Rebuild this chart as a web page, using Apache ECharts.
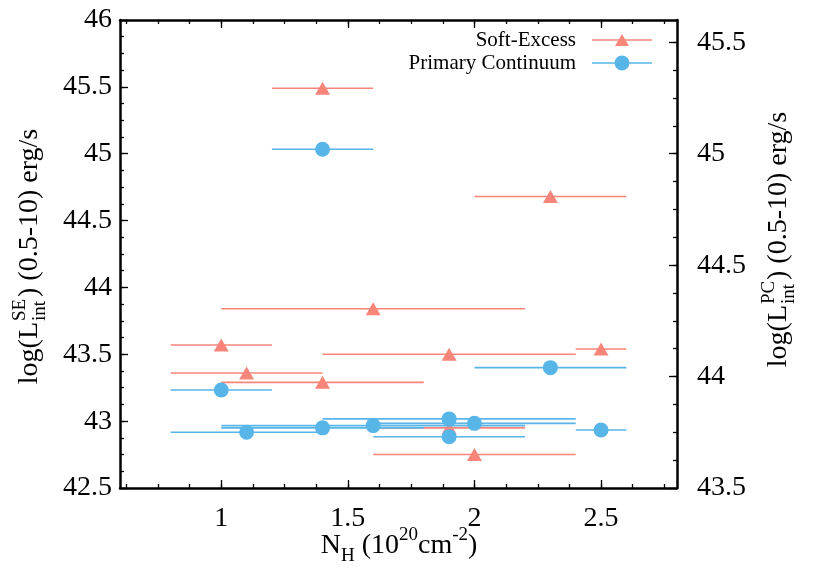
<!DOCTYPE html>
<html>
<head>
<meta charset="utf-8">
<style>
  html, body { margin: 0; padding: 0; background: #fff; }
  #chart { width: 830px; height: 580px; }
</style>
</head>
<body>
<div id="chart"></div>
<script src="https://cdn.jsdelivr.net/npm/echarts@6/dist/echarts.min.js"></script>
<script>
// N_H (10^20 cm^-2) with its x error range, shared by both components
var nH     = [1.4, 2.3, 1.6, 1.0, 2.5, 1.9, 1.1, 1.4, 1.9, 2.0];
var nHLo   = [1.2, 2.0, 1.0, 0.8, 2.4, 1.4, 0.8, 1.0, 1.6, 1.6];
var nHHi   = [1.6, 2.6, 2.2, 1.2, 2.6, 2.4, 1.4, 1.8, 2.2, 2.4];
// log L_int (0.5-10 keV)
var logLSE = [45.49, 44.68, 43.84, 43.57, 43.54, 43.50, 43.36, 43.29, 42.95, 42.75];
var logLPC = [45.02, 44.04, 43.78, 43.94, 43.76, 43.81, 43.75, 43.77, 43.73, 43.79];

var xTicks   = [1, 1.5, 2, 2.5];
var yTicksSE = [42.5, 43, 43.5, 44, 44.5, 45, 45.5, 46];
var yTicksPC = [43.5, 44, 44.5, 45, 45.5];

var RED = '#f8857a';
var BLUE = '#57b5e8';
var FONT = 'Liberation Serif';

function steps(a, b, s) {
    var out = [];
    for (var v = a; v <= b + 1e-9; v += s) out.push(+v.toFixed(4));
    return out;
}
var xMinor   = steps(0.625, 2.75, 0.125);
var ySEMinor = steps(42.625, 45.875, 0.125);
var yPCMinor = steps(43.625, 45.5, 0.125);

function pts(ys) {
    return nH.map(function (x, i) { return [x, ys[i]]; });
}
function bars(ys) {
    return nH.map(function (x, i) { return [nHLo[i], nHHi[i], ys[i]]; });
}
function errBar(params, api) {
    var a = api.coord([api.value(0), api.value(2)]);
    var b = api.coord([api.value(1), api.value(2)]);
    return {
        type: 'line',
        shape: { x1: a[0], y1: a[1], x2: b[0], y2: b[1] },
        style: { stroke: api.visual('color'), lineWidth: 1.6 }
    };
}

var grid = { left: 120, right: 153, top: 20, bottom: 92 };
var frame = { show: true, lineStyle: { color: '#000', width: 2.5 } };
var tickLabel = { fontFamily: FONT, fontSize: 28, color: '#000' };

function majorX(pos, labels) {
    return {
        type: 'value', gridIndex: 0, position: pos, min: 0.6, max: 2.8,
        axisLine: frame, splitLine: { show: false },
        axisTick: { inside: true, length: 8, customValues: xTicks, lineStyle: { color: '#000', width: 1.3 } },
        axisLabel: Object.assign({ show: labels, margin: 17, customValues: xTicks }, tickLabel)
    };
}
function minorX(pos) {
    return {
        type: 'value', gridIndex: 1, position: pos, min: 0.6, max: 2.8,
        axisLine: { show: false }, splitLine: { show: false }, axisLabel: { show: false },
        axisTick: { inside: true, length: 4, customValues: xMinor, lineStyle: { color: '#000', width: 1.3 } }
    };
}
function majorY(pos, min, max, ticks, margin) {
    return {
        type: 'value', gridIndex: 0, position: pos, min: min, max: max,
        axisLine: frame, splitLine: { show: false },
        axisTick: { inside: true, length: 8, customValues: ticks, lineStyle: { color: '#000', width: 1.3 } },
        axisLabel: Object.assign({ margin: margin, customValues: ticks }, tickLabel)
    };
}
function minorY(pos, min, max, ticks) {
    return {
        type: 'value', gridIndex: 1, position: pos, min: min, max: max,
        axisLine: { show: false }, splitLine: { show: false }, axisLabel: { show: false },
        axisTick: { inside: true, length: 4, customValues: ticks, lineStyle: { color: '#000', width: 1.3 } }
    };
}

var legendText = { fontFamily: FONT, fontSize: 21, color: '#000', lineHeight: 22, padding: [0, 11, 0, 0] };

// stacked super/subscript title for the vertical axes
function yTitle(x, y, sup) {
    var big = '28px ' + FONT, small = '19px ' + FONT;
    return {
        type: 'group', x: x, y: y, rotation: Math.PI / 2,
        children: [
            { type: 'text', x: 0, y: 0, style: { text: 'log(L', font: big, fill: '#000', align: 'right', verticalAlign: 'middle' } },
            { type: 'text', x: 1, y: -10, style: { text: sup, font: small, fill: '#000', align: 'left', verticalAlign: 'middle' } },
            { type: 'text', x: 1, y: 10, style: { text: 'int', font: small, fill: '#000', align: 'left', verticalAlign: 'middle' } },
            { type: 'text', x: 25, y: 0, style: { text: ') (0.5-10) erg/s', font: big, fill: '#000', align: 'left', verticalAlign: 'middle' } }
        ]
    };
}

var chart = echarts.init(document.getElementById('chart'), null, { renderer: 'canvas' });
chart.setOption({
    animation: false,
    backgroundColor: '#fff',
    grid: [grid, grid],
    xAxis: [majorX('bottom', true), majorX('top', false), minorX('bottom'), minorX('top')],
    yAxis: [
        majorY('left', 42.5, 46, yTicksSE, 8),
        majorY('right', 43.5, 45.6, yTicksPC, 20),
        minorY('left', 42.5, 46, ySEMinor),
        minorY('right', 43.5, 45.6, yPCMinor)
    ],
    legend: [
        {
            right: 173, top: 24, align: 'right', selectedMode: false,
            itemWidth: 60, itemHeight: 12, textStyle: legendText,
            data: [{ name: 'Soft-Excess', icon: 'path://M0,7.2H60V8.8H0Z M30,2L37,14L23,14Z' }]
        },
        {
            right: 173, top: 47, align: 'right', selectedMode: false,
            itemWidth: 60, itemHeight: 15, textStyle: legendText,
            data: [{ name: 'Primary Continuum', icon: 'path://M0,7.2H60V8.8H0Z M37.5,8A7.5,7.5 0 1 1 22.5,8A7.5,7.5 0 1 1 37.5,8Z' }]
        }
    ],
    series: [
        {
            name: 'Soft-Excess', type: 'custom', xAxisIndex: 0, yAxisIndex: 0,
            itemStyle: { color: RED }, renderItem: errBar,
            encode: { x: [0, 1], y: 2 }, data: bars(logLSE), z: 2
        },
        {
            name: 'Soft-Excess', type: 'scatter', xAxisIndex: 0, yAxisIndex: 0,
            symbol: 'triangle', symbolSize: [15, 13],
            itemStyle: { color: RED, opacity: 1 }, data: pts(logLSE), z: 3
        },
        {
            name: 'Primary Continuum', type: 'custom', xAxisIndex: 0, yAxisIndex: 1,
            itemStyle: { color: BLUE }, renderItem: errBar,
            encode: { x: [0, 1], y: 2 }, data: bars(logLPC), z: 4
        },
        {
            name: 'Primary Continuum', type: 'scatter', xAxisIndex: 0, yAxisIndex: 1,
            symbol: 'circle', symbolSize: 15,
            itemStyle: { color: BLUE, opacity: 1 }, data: pts(logLPC), z: 5
        }
    ],
    graphic: [
        yTitle(30, 322, 'SE'),
        yTitle(779, 305, 'PC'),
        {
            type: 'text', x: 399, y: 546,
            style: {
                text: '{b|N}{sub|H}{b| (10}{sup|20}{b|cm}{sup|-2}{b|)}',
                align: 'center', verticalAlign: 'middle', fill: '#000',
                rich: {
                    b: { fontFamily: FONT, fontSize: 28, lineHeight: 40, fill: '#000' },
                    sup: { fontFamily: FONT, fontSize: 19, lineHeight: 19, verticalAlign: 'top', fill: '#000' },
                    sub: { fontFamily: FONT, fontSize: 19, lineHeight: 19, verticalAlign: 'bottom', fill: '#000' }
                }
            }
        }
    ]
});
</script>
</body>
</html>
